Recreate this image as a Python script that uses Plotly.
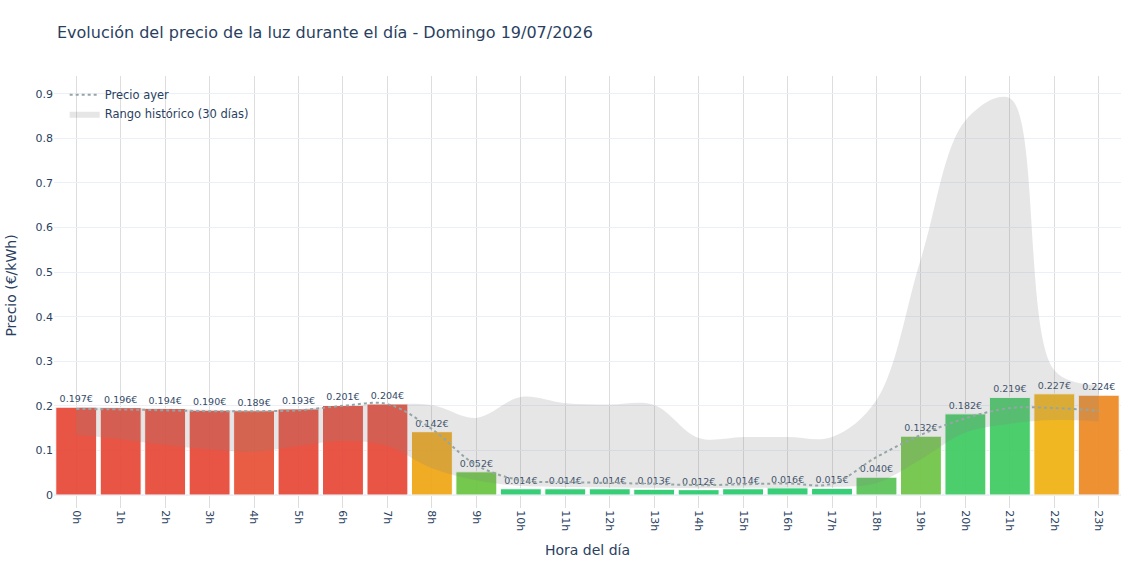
import plotly.graph_objects as go

horas = [f"{h}h" for h in range(24)]
precio_hoy = [0.197, 0.196, 0.194, 0.190, 0.189, 0.193, 0.201, 0.204, 0.142, 0.052,
              0.014, 0.014, 0.014, 0.013, 0.012, 0.014, 0.016, 0.015, 0.040, 0.132,
              0.182, 0.219, 0.227, 0.224]
precio_ayer = [0.193, 0.192, 0.190, 0.188, 0.188, 0.190, 0.200, 0.204, 0.148, 0.067,
               0.033, 0.029, 0.027, 0.025, 0.022, 0.024, 0.026, 0.025, 0.085, 0.135,
               0.172, 0.195, 0.195, 0.189]
rango_min = [0.135, 0.125, 0.112, 0.102, 0.097, 0.110, 0.121, 0.110, 0.060, 0.033,
             0.020, 0.018, 0.017, 0.016, 0.015, 0.016, 0.017, 0.018, 0.027, 0.080,
             0.140, 0.160, 0.168, 0.165]
rango_max = [0.197, 0.196, 0.194, 0.191, 0.190, 0.193, 0.201, 0.204, 0.202, 0.173,
             0.220, 0.206, 0.203, 0.202, 0.128, 0.130, 0.130, 0.130, 0.213, 0.530,
             0.840, 0.890, 0.280, 0.247]
colores = ["#e74c3c", "#e74c3c", "#e74c3c", "#e74c3c", "#e8553a", "#e74c3c", "#e74c3c",
           "#e74c3c", "#f0a81a", "#6cc644", "#2ecc71", "#2ecc71", "#2ecc71", "#2ecc71",
           "#2ecc71", "#2ecc71", "#2ecc71", "#2ecc71", "#5cc55a", "#72c64a", "#44cc66",
           "#44cc66", "#f0b418", "#ee8c28"]

FONT = "DejaVu Sans"

fig = go.Figure()
fig.add_trace(go.Bar(
    x=horas, y=precio_hoy,
    marker=dict(color=colores, line=dict(color="white", width=1)),
    opacity=0.95,
    text=[f"{v:.3f}€" for v in precio_hoy],
    textposition="outside",
    textfont=dict(size=9.5, color="#2a3f5f"),
    cliponaxis=False,
    showlegend=False,
))
fig.add_trace(go.Scatter(
    x=horas, y=rango_min, mode="lines",
    line=dict(width=0, shape="spline"),
    showlegend=False, hoverinfo="skip",
))
fig.add_trace(go.Scatter(
    x=horas, y=rango_max, mode="lines",
    line=dict(width=0, shape="spline"),
    fill="tonexty", fillcolor="rgba(128,128,128,0.2)",
    name="Rango histórico (30 días)",
))
fig.add_trace(go.Scatter(
    x=horas, y=precio_ayer, mode="lines",
    line=dict(color="#95a5a6", width=2, dash="dot", shape="spline"),
    name="Precio ayer",
))

fig.update_layout(
    template="plotly_white",
    width=1140, height=570,
    font=dict(family=FONT, color="#2a3f5f", size=11.5),
    title=dict(text="Evolución del precio de la luz durante el día - Domingo 19/07/2026",
               x=0.05, y=1 - 32 / 570, yanchor="middle", font=dict(size=16)),
    margin=dict(l=54, r=19, t=76, b=75),
    bargap=0.08,
    legend=dict(x=0.01, y=0.99, bgcolor="rgba(0,0,0,0)", traceorder="reversed",
                font=dict(size=11.5)),
    xaxis=dict(title=dict(text="Hora del día"), tickangle=90, ticks="outside",
               ticklen=12, tickcolor="#dddddd", showgrid=True, gridcolor="#dddddd",
               tickfont=dict(size=11),
               categoryorder="array", categoryarray=horas),
    yaxis=dict(title=dict(text="Precio (€/kWh)"), range=[0, 0.94], dtick=0.1,
               tickfont=dict(size=11),
               gridcolor="#EBF0F8", zeroline=True, zerolinecolor="#EBF0F8"),
)

fig.write_html("out.html")
